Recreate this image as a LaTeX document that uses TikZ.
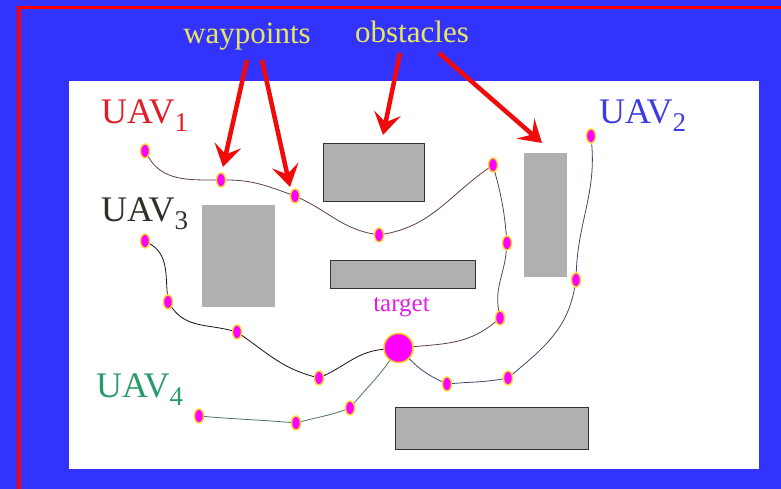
\documentclass[tikz,border=0pt]{standalone}
\usepackage{fontspec}
\setmainfont{Liberation Serif}
\usetikzlibrary{shapes.geometric,arrows.meta}
\definecolor{bgblue}{RGB}{51,51,255}
\definecolor{frame}{RGB}{255,0,0}
\definecolor{obst}{RGB}{176,176,176}
\definecolor{lblyel}{RGB}{232,232,90}
\definecolor{arrowred}{RGB}{240,10,10}
\definecolor{wpfill}{RGB}{255,0,255}
\definecolor{wpedge}{RGB}{255,215,40}
\definecolor{uavone}{RGB}{225,30,40}
\definecolor{uavtwo}{RGB}{60,60,225}
\definecolor{uavthree}{RGB}{45,50,38}
\definecolor{uavfour}{RGB}{40,155,105}
\definecolor{pathone}{RGB}{95,65,65}
\definecolor{pathtwo}{RGB}{60,75,105}
\definecolor{paththree}{RGB}{20,20,20}
\definecolor{pathfour}{RGB}{80,115,100}
\definecolor{tgtcol}{RGB}{225,30,225}
\tikzset{
  obstacle/.style={fill=obst},
  obstaclebd/.style={fill=obst, draw=black!80, line width=0.9pt},
  wp/.style={ellipse, fill=wpfill, draw=wpedge, line width=1.4pt, minimum width=9pt, minimum height=14pt, inner sep=0pt},
  tgt/.style={circle, fill=wpfill, draw=wpedge!80!orange, line width=1.5pt, minimum size=29pt, inner sep=0pt},
  route/.style={line width=0.8pt},
  callout/.style={draw=arrowred, line width=4.5pt, -{Stealth[length=22pt,width=27pt,inset=9pt]}},
  toplbl/.style={text=lblyel, font=\fontsize{31}{31}\selectfont, anchor=base, inner sep=0pt},
  uavlbl/.style={font=\fontsize{36}{36}\selectfont, anchor=base west, inner sep=0pt},
}
\newcommand{\uavsub}[1]{\raisebox{-8pt}{\fontsize{27}{27}\selectfont #1}}
\begin{document}
\begin{tikzpicture}[x=1pt,y=1pt]
\useasboundingbox (0,0) rectangle (781,489);
% background
\fill[bgblue] (0,0) rectangle (781,489);
\draw[frame, line width=3.5pt] (19,0) -- (19,481.5) -- (781,481.5);
\fill[white] (69,20) rectangle (759,408);
% obstacles
\draw[obstaclebd] (323,288) rectangle (424,346);
\fill[obstacle] (202,182) rectangle (275,284);
\draw[obstaclebd] (330,201) rectangle (475,229);
\fill[obstacle] (524,212) rectangle (567,336);
\draw[obstaclebd] (395,40) rectangle (588,82);
% labels
\node[toplbl] (lwp) at (247,445) {waypoints};
\node[toplbl] (lob) at (412,446) {obstacles};
\node[uavlbl, text=uavone] (l1) at (101,365) {UAV\uavsub{1}};
\node[uavlbl, text=uavtwo] (l2) at (599,365) {UAV\uavsub{2}};
\node[uavlbl, text=uavthree] (l3) at (101,267) {UAV\uavsub{3}};
\node[uavlbl, text=uavfour] (l4) at (96,91) {UAV\uavsub{4}};
\node[text=tgtcol, font=\fontsize{25}{25}\selectfont, anchor=base, inner sep=0pt] (lt) at (401.5,177) {target};
% target
\node[tgt] (T) at (398.5,141) {};
% waypoints UAV1
\node[wp] (a1) at (145,338) {};
\node[wp] (a2) at (221,309) {};
\node[wp] (a3) at (295,293) {};
\node[wp] (a4) at (379,254) {};
\node[wp] (a5) at (493,324) {};
\node[wp] (a6) at (507,246) {};
\node[wp] (a7) at (500,171) {};
% UAV2
\node[wp] (b1) at (591,353) {};
\node[wp] (b2) at (576,209) {};
\node[wp] (b3) at (508,111) {};
\node[wp] (b4) at (447,105) {};
% UAV3
\node[wp] (c1) at (145,248) {};
\node[wp] (c2) at (168,187) {};
\node[wp] (c3) at (237,157) {};
\node[wp] (c4) at (319,111) {};
% UAV4
\node[wp] (d1) at (199,73) {};
\node[wp] (d2) at (296,66) {};
\node[wp] (d3) at (350,81) {};
% routes
\draw[route, pathone] (a1) to[out=-60,in=180] (a2) to[out=0,in=160] (a3) to[out=-25,in=170] (a4)
  to[out=10,in=-145] (a5) to[out=-75,in=95] (a6) to[out=-95,in=100] (a7) to[out=-140,in=5] (T);
\draw[route, pathtwo] (b1) to[out=-85,in=88] (b2) to[out=-100,in=40] (b3) to[out=190,in=5] (b4) to[out=155,in=-45] (T);
\draw[route, paththree] (c1) to[out=-30,in=95] (c2) to[out=-55,in=165] (c3) to[out=-35,in=165] (c4) to[out=25,in=185] (T);
\draw[route, pathfour] (d1) to[out=-5,in=175] (d2) to[out=15,in=-160] (d3) to[out=50,in=-125] (T);
% callout arrows
\coordinate (t1) at (247,429);
\coordinate (h1) at (223,322);
\coordinate (t2) at (262,429);
\coordinate (h2) at (290,302);
\coordinate (t3) at (400,436);
\coordinate (h3) at (383,354);
\coordinate (t4) at (439,436);
\coordinate (h4) at (542,346);
\draw[callout] (t1) -- (h1);
\draw[callout] (t2) -- (h2);
\draw[callout] (t3) -- (h3);
\draw[callout] (t4) -- (h4);
\end{tikzpicture}
\end{document}
